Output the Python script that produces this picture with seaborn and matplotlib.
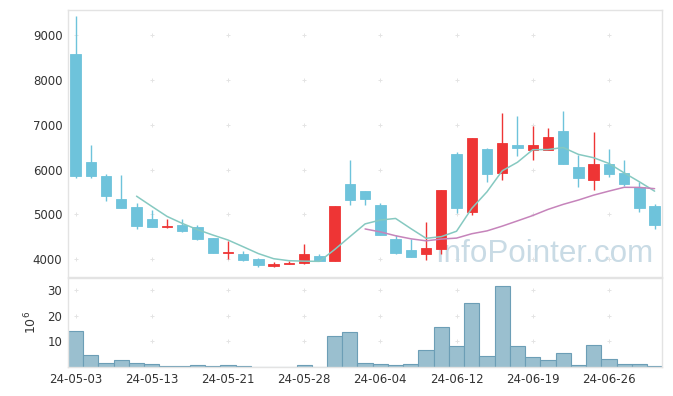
# =========================
# Stock candlestick + volume chart
# =========================

import numpy as np
import pandas as pd
import matplotlib
matplotlib.use("Agg")
import matplotlib.pyplot as plt
import seaborn as sns

# -------------------------
# 1. Data
# -------------------------
dates = ["24-05-03", "24-05-07", "24-05-08", "24-05-09", "24-05-10",
         "24-05-13", "24-05-14", "24-05-16", "24-05-17", "24-05-20",
         "24-05-21", "24-05-22", "24-05-23", "24-05-24", "24-05-27",
         "24-05-28", "24-05-29", "24-05-30", "24-05-31", "24-06-03",
         "24-06-04", "24-06-05", "24-06-07", "24-06-10", "24-06-11",
         "24-06-12", "24-06-13", "24-06-14", "24-06-17", "24-06-18",
         "24-06-19", "24-06-20", "24-06-21", "24-06-24", "24-06-25",
         "24-06-26", "24-06-27", "24-06-28", "24-07-01"]

opens = [8576, 6165, 5853, 5339, 5161, 4893, 4710, 4759, 4714, 4469,
         4140, 4112, 3993, 3850, 3890, 3918, 4060, 3963, 5674, 5510,
         5198, 4446, 4201, 4104, 4231, 6344, 5049, 6448, 5912, 6545,
         6426, 6426, 6857, 6054, 5771, 6113, 5912, 5607, 5183]
highs = [9424, 6545, 5890, 5882, 5243, 5094, 4900, 4885, 4751, 4480,
         4402, 4179, 4015, 3940, 3955, 4327, 4104, 5183, 6202, 5510,
         5243, 4536, 4454, 4818, 5533, 6396, 6693, 6470, 7266, 7192,
         6961, 6917, 7304, 6314, 6827, 6455, 6202, 5711, 5228]
lows = [5815, 5800, 5302, 5140, 4677, 4707, 4700, 4610, 4424, 4126,
        3993, 3963, 3829, 3829, 3880, 3888, 3948, 3963, 5205, 5205,
        4528, 4112, 4037, 3978, 4112, 5019, 4982, 5711, 5763, 6307,
        6202, 6426, 6128, 5600, 5541, 5838, 5637, 5042, 4662]
closes = [5860, 5860, 5414, 5146, 4744, 4722, 4740, 4632, 4454, 4141,
          4165, 3985, 3866, 3885, 3920, 4112, 3963, 5183, 5324, 5347,
          4543, 4141, 4052, 4238, 5533, 5146, 6693, 5905, 6582, 6485,
          6545, 6716, 6128, 5815, 6113, 5905, 5667, 5131, 4766]
# volume in millions of shares
volume = [14.0, 4.7, 1.6, 2.9, 1.6, 1.2, 0.4, 0.4, 0.8, 0.4,
          0.8, 0.4, 0.1, 0.1, 0.1, 0.8, 0.1, 12.1, 13.6, 1.6,
          1.2, 0.8, 1.2, 6.6, 15.6, 8.2, 24.9, 4.3, 31.6, 8.2,
          3.9, 2.9, 5.5, 0.8, 8.6, 3.1, 1.2, 1.2, 0.4]

df = pd.DataFrame({"date": dates, "open": opens, "high": highs,
                   "low": lows, "close": closes, "volume": volume})
df["x"] = np.arange(len(df))
df["ma5"] = df["close"].rolling(5).mean()
df["ma20"] = df["close"].rolling(20).mean()

UP = "#EE3535"
DOWN = "#6EC3DB"
GRID = "#E4E4E4"
SPINE = "#E3E3E3"

# -------------------------
# 2. Figure layout
# -------------------------
sns.set_style("white")
plt.rcParams["font.family"] = ["DejaVu Sans"]

fig = plt.figure(figsize=(6.73, 3.96), dpi=100)
ax = fig.add_axes([0.101, 0.3005, 0.883, 0.674])
ax2 = fig.add_axes([0.101, 0.0732, 0.883, 0.2248])

# -------------------------
# 3. Candles
# -------------------------
up = df["close"] >= df["open"]
colors = np.where(up, UP, DOWN)
body_low = df[["open", "close"]].min(axis=1)
body_h = (df["close"] - df["open"]).abs().clip(lower=25)

ax.vlines(df["x"], df["low"], df["high"], colors=colors, linewidth=1.0, zorder=2)
ax.bar(df["x"], body_h, bottom=body_low, width=0.68, color=colors,
       edgecolor=colors, linewidth=0.6, zorder=3)

sns.lineplot(data=df, x="x", y="ma5", ax=ax, color="#86C9C1", linewidth=1.1, zorder=4)
sns.lineplot(data=df, x="x", y="ma20", ax=ax, color="#C684BB", linewidth=1.1, zorder=4)

ax.text(0.985, 0.03, "InfoPointer.com", transform=ax.transAxes, ha="right", va="bottom",
        fontsize=22.6, family="Liberation Sans", color="#C9DBE5", zorder=1)

# -------------------------
# 4. Volume
# -------------------------
sns.barplot(data=df, x="x", y="volume", ax=ax2, color="#9ABFCF", saturation=1,
            width=1.0, edgecolor="#6C9EB6", linewidth=0.8)

# -------------------------
# 5. Axes styling
# -------------------------
xticks = df["x"].values[::5]
price_ticks = [4000, 5000, 6000, 7000, 8000, 9000]
vol_ticks = [10, 20, 30]

ax.set_xlim(-0.5, len(df) - 0.5)
ax.set_ylim(3600, 9560)
ax.set_yticks(price_ticks)
ax.set_xticks([])
ax.set_xlabel("")
ax.set_ylabel("")

ax2.set_xlim(-0.5, len(df) - 0.5)
ax2.set_ylim(0, 34.8)
ax2.set_yticks(vol_ticks)
ax2.set_xticks(xticks)
ax2.set_xticklabels(df["date"].values[::5])
ax2.set_xlabel("")
ax2.set_ylabel(r"$10^6$", fontsize=9, color="#333333", labelpad=6)

# plus-shaped grid marks at tick crossings
gx, gy = np.meshgrid(xticks, price_ticks)
ax.scatter(gx.ravel(), gy.ravel(), marker="+", s=12, color=GRID, linewidths=0.7, zorder=0)
gx, gy = np.meshgrid(xticks, vol_ticks)
ax2.scatter(gx.ravel(), gy.ravel(), marker="+", s=12, color=GRID, linewidths=0.7, zorder=0)

for a in (ax, ax2):
    for s in a.spines.values():
        s.set_color(SPINE)
        s.set_linewidth(1.0)
    a.tick_params(length=0, labelsize=8.5, colors="#333333", pad=4)

plt.savefig("out.png", dpi=100)
